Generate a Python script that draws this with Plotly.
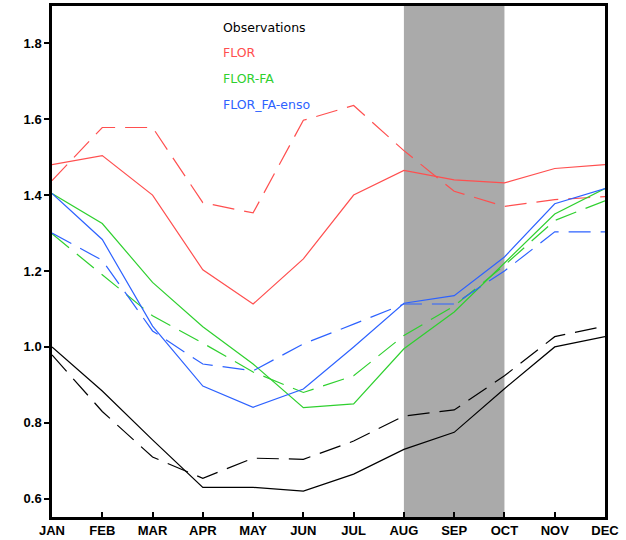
import plotly.graph_objects as go

months = ["JAN","FEB","MAR","APR","MAY","JUN","JUL","AUG","SEP","OCT","NOV","DEC"]
xi = list(range(12))

obs_solid   = [1.00, 0.884, 0.755, 0.630, 0.630, 0.620, 0.665, 0.730, 0.775, 0.890, 1.000, 1.027]
obs_dash    = [0.979, 0.830, 0.710, 0.654, 0.707, 0.704, 0.752, 0.818, 0.834, 0.924, 1.027, 1.055]
flor_solid  = [1.480, 1.504, 1.400, 1.203, 1.113, 1.232, 1.400, 1.465, 1.440, 1.432, 1.470, 1.480]
flor_dash   = [1.438, 1.578, 1.578, 1.380, 1.353, 1.597, 1.636, 1.517, 1.410, 1.370, 1.388, 1.396]
fa_solid    = [1.404, 1.325, 1.170, 1.053, 0.955, 0.840, 0.850, 0.995, 1.092, 1.220, 1.350, 1.417]
fa_dash     = [1.298, 1.190, 1.082, 1.010, 0.934, 0.880, 0.924, 1.030, 1.108, 1.215, 1.333, 1.385]
enso_solid  = [1.404, 1.283, 1.055, 0.897, 0.841, 0.889, 1.000, 1.115, 1.135, 1.237, 1.377, 1.417]
enso_dash   = [1.300, 1.228, 1.042, 0.955, 0.937, 1.008, 1.060, 1.113, 1.113, 1.200, 1.303, 1.303]

legend_labels = ["Observations", "FLOR", "FLOR-FA", "FLOR_FA-enso"]
colors = ["#000000", "#ff4f4f", "#2fd02f", "#2d62ff"]
shade_months = ("AUG", "OCT")

fig = go.Figure()
series = [
    (obs_solid, obs_dash, colors[0], legend_labels[0]),
    (flor_solid, flor_dash, colors[1], legend_labels[1]),
    (fa_solid, fa_dash, colors[2], legend_labels[2]),
    (enso_solid, enso_dash, colors[3], legend_labels[3]),
]
for s, d, c, n in series:
    fig.add_trace(go.Scatter(x=xi, y=s, mode="lines", name=n,
                             line=dict(color=c, width=1.2)))
    fig.add_trace(go.Scatter(x=xi, y=d, mode="lines", name=n + " (dashed)",
                             line=dict(color=c, width=1.2, dash="22px,10px")))

fig.add_shape(type="rect", xref="x", yref="paper",
              x0=months.index(shade_months[0]), x1=months.index(shade_months[1]),
              y0=0, y1=1, fillcolor="#aaaaaa", line=dict(width=0), layer="below")

ys = [0.958, 0.909, 0.858, 0.807]
for lab, c, y in zip(legend_labels, colors, ys):
    fig.add_annotation(text=lab, xref="paper", yref="paper", x=0.305, y=y,
                       xanchor="left", yanchor="middle", showarrow=False,
                       font=dict(family="DejaVu Sans", size=12.5, color=c))

tickfont = dict(family="Liberation Sans", size=13, color="black", weight="bold")
fig.update_layout(
    width=626, height=540,
    margin=dict(l=52, r=21, t=6, b=23),
    paper_bgcolor="white", plot_bgcolor="white",
    showlegend=False,
    xaxis=dict(tickmode="array", tickvals=xi, ticktext=months, range=[0, 11],
               showgrid=False, zeroline=False, showline=True, mirror=True,
               linecolor="black", linewidth=2.5, ticks="inside", ticklen=5,
               tickwidth=1.5, tickcolor="black", tickfont=tickfont,
               automargin=False),
    yaxis=dict(range=[0.552, 1.898], tickvals=[0.6, 0.8, 1.0, 1.2, 1.4, 1.6, 1.8],
               ticktext=["0.6", "0.8", "1.0", "1.2", "1.4", "1.6", "1.8"],
               showgrid=False, zeroline=False, showline=True, mirror=True,
               linecolor="black", linewidth=2.5, ticks="outside", ticklen=5,
               tickwidth=1.5, tickcolor="black", tickfont=tickfont,
               automargin=False),
)
fig.write_html("out.html")
